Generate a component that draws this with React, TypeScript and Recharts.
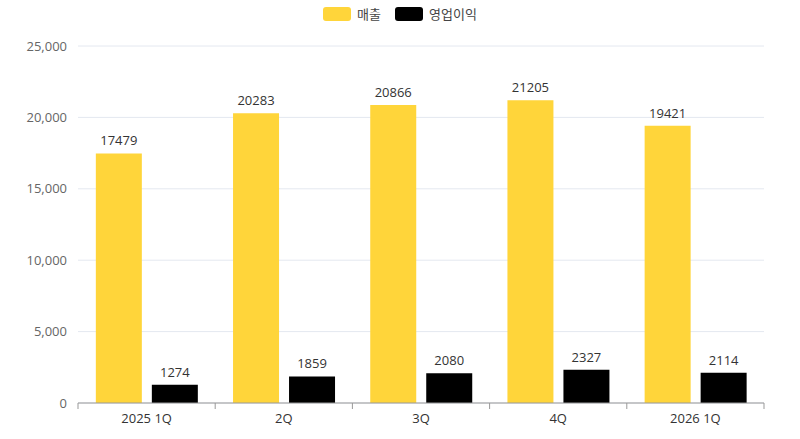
import React from "react";
import { BarChart, Bar, XAxis, YAxis, CartesianGrid, LabelList } from "recharts";

const categories = ["2025 1Q", "2Q", "3Q", "4Q", "2026 1Q"];
const revenue = [17479, 20283, 20866, 21205, 19421];
const operatingProfit = [1274, 1859, 2080, 2327, 2114];
const yTicks = [0, 5000, 10000, 15000, 20000, 25000];
const seriesNames = ["매출", "영업이익"];
const seriesColors = ["#FFD53A", "#000000"];

const data = categories.map((c, i) => ({ name: c, revenue: revenue[i], profit: operatingProfit[i] }));

const FONT = "'Open Sans', 'Noto Sans CJK KR', sans-serif";
const TICK_MARGIN = 11;
const BOUND_TICK = 6;

function CategoryTick(props: any) {
  const { x, y, payload, index, visibleTicksCount } = props;
  const half = payload && payload.offset ? payload.offset : 0;
  const axisY = y - TICK_MARGIN;
  const isLast = index === (visibleTicksCount ?? categories.length) - 1;
  return (
    <g>
      <line x1={x - half} x2={x - half} y1={axisY} y2={axisY + BOUND_TICK} stroke="#999" />
      {isLast && <line x1={x + half} x2={x + half} y1={axisY} y2={axisY + BOUND_TICK} stroke="#999" />}
      <text x={x} y={y} dy="0.71em" textAnchor="middle" fill="#333" fontSize={13} fontFamily={FONT}>
        {payload.value}
      </text>
    </g>
  );
}

export default function App() {
  return (
    <div style={{ position: "fixed", left: 0, top: 0, width: 800, height: 439, background: "#fff", fontFamily: FONT }}>
      <div style={{ position: "absolute", top: 4, left: 0, width: 800, display: "flex", justifyContent: "center", alignItems: "center", fontSize: 13, color: "#444", fontFamily: FONT }}>
        {seriesNames.map((n, i) => (
          <div key={n} style={{ display: "flex", alignItems: "center", margin: "0 7px" }}>
            <span style={{ display: "inline-block", width: 28, height: 14, borderRadius: 3, background: seriesColors[i], marginRight: 6 }} />
            <span>{n}</span>
          </div>
        ))}
      </div>
      <BarChart
        width={800}
        height={439}
        data={data}
        margin={{ top: 46, right: 36, bottom: 6, left: 0 }}
        barCategoryGap="13%"
        barGap={10}
        style={{ fontFamily: FONT }}
      >
        <CartesianGrid vertical={false} stroke="#e4e8f0" />
        <XAxis
          dataKey="name"
          tickLine={false}
          tickSize={0}
          axisLine={{ stroke: "#999" }}
          tick={<CategoryTick />}
          tickMargin={TICK_MARGIN}
          interval={0}
          height={30}
        />
        <YAxis
          domain={[0, 25000]}
          ticks={yTicks}
          width={78}
          axisLine={false}
          tickLine={false}
          tickMargin={5}
          tick={{ fill: "#666", fontSize: 13 }}
          tickFormatter={(v: number) => v.toLocaleString("en-US")}
        />
        <Bar dataKey="revenue" name={seriesNames[0]} fill={seriesColors[0]} isAnimationActive={false}>
          <LabelList dataKey="revenue" position="top" offset={8} fill="#333" fontSize={13} />
        </Bar>
        <Bar dataKey="profit" name={seriesNames[1]} fill={seriesColors[1]} isAnimationActive={false}>
          <LabelList dataKey="profit" position="top" offset={8} fill="#333" fontSize={13} />
        </Bar>
      </BarChart>
    </div>
  );
}
